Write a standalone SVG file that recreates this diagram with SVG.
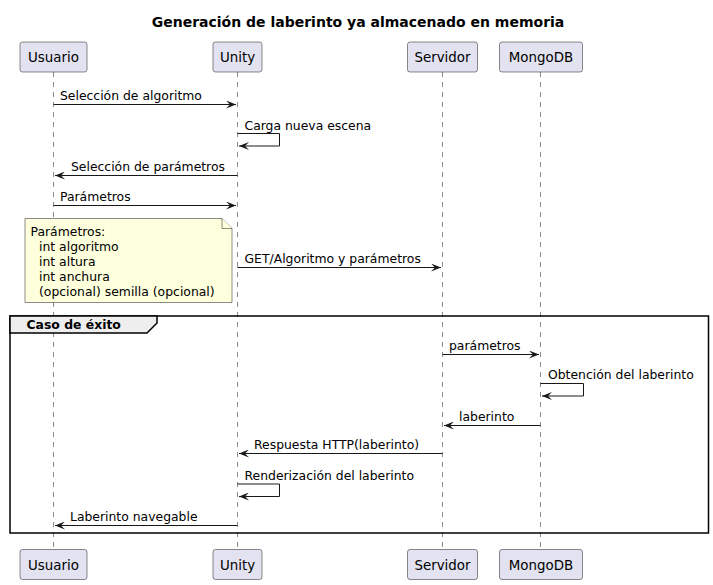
<svg xmlns="http://www.w3.org/2000/svg" width="713" height="585" viewBox="0 0 713 585">
<style>
text{font-family:"DejaVu Sans",Verdana,sans-serif;fill:#000}
.t{font-size:14px;font-weight:bold}
.p{font-size:13.4px}
.m{font-size:12.4px}
.g{font-size:12.4px;font-weight:bold}
.box{fill:#E2E2F0;stroke:#181818;stroke-width:0.5}
.life{stroke:#181818;stroke-width:0.5;stroke-dasharray:5,5;fill:none}
.msg{stroke:#181818;stroke-width:1;fill:none}
.note{fill:#FEFFDD;stroke:#181818;stroke-width:0.5}
</style>
<defs>
<marker id="ah" viewBox="0 0 10 8" refX="10" refY="4" markerWidth="10" markerHeight="8" markerUnits="userSpaceOnUse" orient="auto">
<polygon points="0,0 10,4 0,8 4,4" fill="#181818"/>
</marker>
</defs>
<rect width="713" height="585" fill="#FFFFFF"/>
<text class="t" x="358" y="27" text-anchor="middle">Generación de laberinto ya almacenado en memoria</text>

<g id="lifelines">
<line class="life" x1="53.5" y1="72" x2="53.5" y2="549"/>
<line class="life" x1="237.5" y1="72" x2="237.5" y2="549"/>
<line class="life" x1="442.5" y1="72" x2="442.5" y2="549"/>
<line class="life" x1="540.5" y1="72" x2="540.5" y2="549"/>
</g>

<g id="group-caso-exito">
<rect x="10" y="316" width="698.5" height="217" fill="none" stroke="#000" stroke-width="1.5"/>
<path d="M10,316 L157,316 L157,323 L147,333 L10,333 Z" fill="#EEEEEE" stroke="#000" stroke-width="1.5"/>
<text class="g" x="26.5" y="328.5">Caso de éxito</text>
</g>

<g id="p-usuario">
<rect class="box" x="20" y="42" width="67" height="30" rx="2.5"/>
<text class="p" x="53.5" y="62" text-anchor="middle">Usuario</text>
<rect class="box" x="20" y="549.5" width="67" height="30" rx="2.5"/>
<text class="p" x="53.5" y="569.5" text-anchor="middle">Usuario</text>
</g>
<g id="p-unity">
<rect class="box" x="213" y="42" width="49" height="30" rx="2.5"/>
<text class="p" x="237.5" y="62" text-anchor="middle">Unity</text>
<rect class="box" x="213" y="549.5" width="49" height="30" rx="2.5"/>
<text class="p" x="237.5" y="569.5" text-anchor="middle">Unity</text>
</g>
<g id="p-servidor">
<rect class="box" x="407.5" y="42" width="70" height="30" rx="2.5"/>
<text class="p" x="442.5" y="62" text-anchor="middle">Servidor</text>
<rect class="box" x="407.5" y="549.5" width="70" height="30" rx="2.5"/>
<text class="p" x="442.5" y="569.5" text-anchor="middle">Servidor</text>
</g>
<g id="p-mongodb">
<rect class="box" x="499.5" y="42" width="83" height="30" rx="2.5"/>
<text class="p" x="541" y="62" text-anchor="middle">MongoDB</text>
<rect class="box" x="499.5" y="549.5" width="83" height="30" rx="2.5"/>
<text class="p" x="541" y="569.5" text-anchor="middle">MongoDB</text>
</g>

<g id="note-parametros">
<path class="note" d="M25,218.5 L222,218.5 L232,228.5 L232,302.5 L25,302.5 Z"/>
<path class="note" d="M222,218.5 L222,228.5 L232,228.5" fill="none"/>
<text class="m" x="30.5" y="236">Parámetros:</text>
<text class="m" x="39" y="251">int algoritmo</text>
<text class="m" x="39" y="266">int altura</text>
<text class="m" x="39" y="281">int anchura</text>
<text class="m" x="39" y="296">(opcional) semilla (opcional)</text>
</g>

<g id="connectors">
<line class="msg" x1="53.5" y1="104.5" x2="236" y2="104.5" marker-end="url(#ah)"/>
<text class="m" x="60" y="100">Selección de algoritmo</text>

<polyline class="msg" points="237.5,133.5 279.5,133.5 279.5,146 239,146" marker-end="url(#ah)"/>
<text class="m" x="244.5" y="129.5">Carga nueva escena</text>

<line class="msg" x1="237.5" y1="175.5" x2="55" y2="175.5" marker-end="url(#ah)"/>
<text class="m" x="71" y="171">Selección de parámetros</text>

<line class="msg" x1="53.5" y1="205.5" x2="236" y2="205.5" marker-end="url(#ah)"/>
<text class="m" x="60" y="201">Parámetros</text>

<line class="msg" x1="237.5" y1="267.5" x2="441" y2="267.5" marker-end="url(#ah)"/>
<text class="m" x="244.5" y="263">GET/Algoritmo y parámetros</text>

<line class="msg" x1="442.5" y1="354.5" x2="539" y2="354.5" marker-end="url(#ah)"/>
<text class="m" x="449" y="350">parámetros</text>

<polyline class="msg" points="540.5,383.5 583.5,383.5 583.5,396 542,396" marker-end="url(#ah)"/>
<text class="m" x="548" y="379">Obtención del laberinto</text>

<line class="msg" x1="540.5" y1="425.5" x2="444" y2="425.5" marker-end="url(#ah)"/>
<text class="m" x="459" y="421">laberinto</text>

<line class="msg" x1="442.5" y1="453.5" x2="239" y2="453.5" marker-end="url(#ah)"/>
<text class="m" x="254" y="449">Respuesta HTTP(laberinto)</text>

<polyline class="msg" points="237.5,484 279.5,484 279.5,496.5 239,496.5" marker-end="url(#ah)"/>
<text class="m" x="244.5" y="479.5">Renderización del laberinto</text>

<line class="msg" x1="237.5" y1="525.5" x2="55" y2="525.5" marker-end="url(#ah)"/>
<text class="m" x="70" y="521">Laberinto navegable</text>
</g>
</svg>
